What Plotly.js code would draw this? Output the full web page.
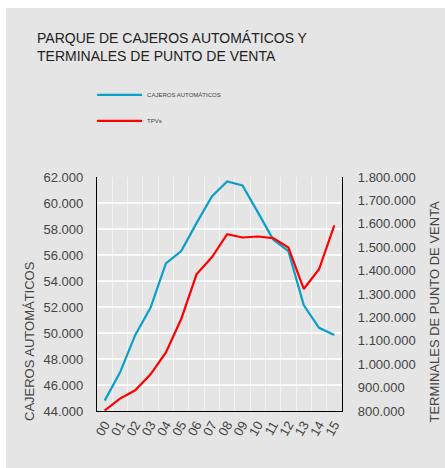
<!DOCTYPE html>
<html><head><meta charset="utf-8">
<script src="https://cdn.plot.ly/plotly-3.0.1.min.js"></script>
<style>html,body{margin:0;padding:0;background:#fff}#c{width:445px;height:468px}</style>
</head><body><div id="c"></div>
<script>
var years = ['00','01','02','03','04','05','06','07','08','09','10','11','12','13','14','15'];
var cajeros = [44800, 46950, 49850, 51950, 55350, 56300, 58450, 60500, 61650, 61350, 59300, 57200, 56300, 52150, 50400, 49850];
var tpvs = [802000, 853000, 888600, 957000, 1050000, 1192900, 1384300, 1457100, 1555700, 1541400, 1545700, 1538600, 1498600, 1321400, 1405700, 1592900];
var leftTicks = [44000, 46000, 48000, 50000, 52000, 54000, 56000, 58000, 60000, 62000];
var rightTicks = [800000, 900000, 1000000, 1100000, 1200000, 1300000, 1400000, 1500000, 1600000, 1700000, 1800000];

var F = 'Liberation Sans, Arial, Helvetica, sans-serif';
var W = 445, H = 468;
var data = [
  {x: years, y: cajeros, type: 'scatter', mode: 'lines', name: 'CAJEROS AUTOMÁTICOS', legendgroup: 'a',
   line: {color: '#0aa0c8', width: 2.2}, yaxis: 'y'},
  {x: years, y: tpvs, type: 'scatter', mode: 'lines', name: 'TPVs', legendgroup: 'b',
   line: {color: '#ff0000', width: 2.2}, yaxis: 'y2'}
];
var layout = {
  width: W, height: H,
  margin: {l: 97, r: 103, t: 177, b: 57},
  paper_bgcolor: '#ffffff', plot_bgcolor: '#e5e5e5',
  separators: ',.',
  font: {family: F, color: '#444', size: 13},
  title: {text: 'PARQUE DE CAJEROS AUTOMÁTICOS Y<br>TERMINALES DE PUNTO DE VENTA',
    x: 37 / W, xanchor: 'left', xref: 'container', y: 1 - 43 / H, yanchor: 'top', yref: 'container',
    font: {family: F, size: 14, color: '#222'}},
  showlegend: true,
  legend: {x: -0.02, xanchor: 'left', y: 1.413, yanchor: 'top', bgcolor: 'rgba(0,0,0,0)',
    font: {family: F, size: 6, color: '#444'}, tracegroupgap: 7, orientation: 'v', itemwidth: 45},
  xaxis: {type: 'category', tickson: 'boundaries', range: [-0.5, 15.5], tickangle: -60,
    tickmode: 'array', tickvals: years, ticktext: years,
    showgrid: true, gridcolor: 'rgba(255,255,255,0.55)', gridwidth: 1,
    showline: true, linecolor: '#000', linewidth: 1.2, ticks: '', zeroline: false,
    tickfont: {family: F, size: 13, color: '#444'}, fixedrange: true},
  yaxis: {range: [44000, 62000], tickvals: leftTicks, tickformat: ',d',
    showgrid: true, gridcolor: 'rgba(255,255,255,0.8)', gridwidth: 1.2,
    showline: true, linecolor: '#000', linewidth: 1.2, ticks: '', zeroline: false,
    ticklabelstandoff: 10, tickfont: {family: F, size: 13, color: '#444'}},
  yaxis2: {range: [800000, 1800000], tickvals: rightTicks, tickformat: ',d', overlaying: 'y', side: 'right',
    showgrid: false, showline: true, linecolor: '#000', linewidth: 1.2, ticks: '', zeroline: false,
    ticklabelstandoff: 12, tickfont: {family: F, size: 13, color: '#444'}},
  shapes: [{type: 'rect', xref: 'paper', yref: 'paper', layer: 'below',
    x0: (6 - 97) / 245, x1: (445 - 97) / 245, y0: (411 - 468) / 234, y1: (411 - 8) / 234,
    fillcolor: '#e5e5e5', line: {width: 0}}],
  annotations: [
    {text: 'CAJEROS AUTOMÁTICOS', textangle: -90, xref: 'paper', yref: 'paper',
     x: (29 - 97) / 245, y: (411 - 341) / 234, xanchor: 'center', yanchor: 'middle', showarrow: false,
     font: {family: F, size: 13, color: '#444'}},
    {text: 'TERMINALES DE PUNTO DE VENTA', textangle: -90, xref: 'paper', yref: 'paper',
     x: (433.5 - 97) / 245, y: (411 - 312) / 234, xanchor: 'center', yanchor: 'middle', showarrow: false,
     font: {family: F, size: 13, color: '#444'}}
  ]
};
Plotly.newPlot('c', data, layout, {displayModeBar: false, staticPlot: true});
</script></body></html>
